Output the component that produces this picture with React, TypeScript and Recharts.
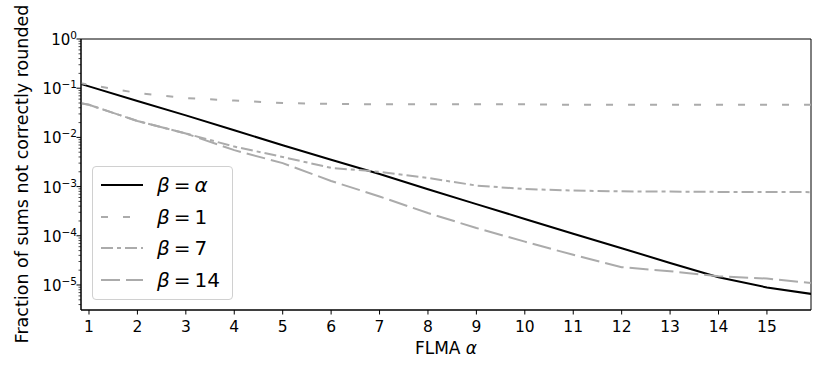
import React from 'react';
import { LineChart, Line, XAxis, YAxis, ReferenceArea } from 'recharts';

const alphas = [0.8, 1, 2, 3, 4, 5, 6, 7, 8, 9, 10, 11, 12, 13, 14, 15, 16];
const betaAlpha = [0.125, 0.109, 0.055, 0.028, 0.014, 0.0069, 0.0035, 0.0018, 0.00088, 0.00044, 0.00022, 0.00011, 5.6e-5, 2.8e-5, 1.44e-5, 8.9e-6, 6.4e-6];
const beta1 = [0.128, 0.118, 0.08, 0.063, 0.056, 0.05, 0.048, 0.047, 0.047, 0.047, 0.047, 0.046, 0.046, 0.046, 0.046, 0.046, 0.046];
const beta7 = [0.05, 0.046, 0.0215, 0.012, 0.0065, 0.004, 0.0024, 0.002, 0.0015, 0.00105, 0.00089, 0.00083, 0.0008, 0.00079, 0.00078, 0.00078, 0.00077];
const beta14 = [0.05, 0.046, 0.0215, 0.012, 0.0055, 0.003, 0.0013, 0.00063, 0.00029, 0.000144, 7.6e-5, 4.1e-5, 2.3e-5, 1.9e-5, 1.5e-5, 1.35e-5, 1.07e-5];

const xTicks = [1, 2, 3, 4, 5, 6, 7, 8, 9, 10, 11, 12, 13, 14, 15];
const majorExps = [-5, -4, -3, -2, -1, 0];

const FONT = '"DejaVu Sans", sans-serif';
const GREY = '#ababab';

const series = [
  { key: 'ba', label: 'α', values: betaAlpha, color: '#000', dash: undefined, italic: true },
  { key: 'b1', label: '1', values: beta1, color: GREY, dash: '7 15', italic: false },
  { key: 'b7', label: '7', values: beta7, color: GREY, dash: '12 4 4 4', italic: false },
  { key: 'b14', label: '14', values: beta14, color: GREY, dash: '19 6', italic: false },
];

const data = alphas.map((a, i) => {
  const row: Record<string, number> = { alpha: a };
  series.forEach((s) => {
    row[s.key] = s.values[i];
  });
  return row;
});

// major + minor log ticks
const yTicks: number[] = [];
for (let e = -6; e <= 0; e++) {
  for (let m = 1; m <= 9; m++) {
    const v = m * Math.pow(10, e);
    if (v >= 3.1e-6 && v <= 1.0000001) yTicks.push(Number(v.toPrecision(3)));
  }
}

const YTick = (props: any) => {
  const { x, y, payload } = props;
  const v = payload.value;
  const exp = Math.round(Math.log10(v));
  const isMajor = Math.abs(v - Math.pow(10, exp)) < 1e-12 && majorExps.includes(exp);
  if (!isMajor) {
    return <line x1={x} x2={x - 2.5} y1={y} y2={y} stroke="#000" strokeWidth={0.7} />;
  }
  const sup = exp < 0 ? '\u2212' + Math.abs(exp) : String(exp);
  return (
    <g>
      <line x1={x} x2={x - 4.5} y1={y} y2={y} stroke="#000" strokeWidth={1} />
      <text x={x - 4} y={y + 6} textAnchor="end" fontFamily={FONT} fontSize={15} fill="#000">
        <tspan>10</tspan>
        <tspan dy={-6} fontSize={10.5}>{sup}</tspan>
      </text>
    </g>
  );
};

const XTick = (props: any) => {
  const { x, y, payload } = props;
  return (
    <g>
      <line x1={x} x2={x} y1={y} y2={y + 4.5} stroke="#000" strokeWidth={1} />
      <text x={x} y={y + 22} textAnchor="middle" fontFamily={FONT} fontSize={15.5} fill="#000">
        {payload.value}
      </text>
    </g>
  );
};

function LegendBox() {
  return (
    <div
      style={{
        position: 'absolute',
        left: 92,
        top: 166,
        width: 139,
        height: 132,
        border: '1px solid #d0d0d0',
        borderRadius: 4,
        background: 'rgba(255,255,255,0.8)',
        fontFamily: FONT,
        fontSize: 20,
        color: '#000',
      }}
    >
      {series.map((s, i) => (
        <div
          key={s.key}
          style={{ position: 'absolute', left: 0, top: 3 + i * 31.7, height: 30, display: 'flex', alignItems: 'center' }}
        >
          <svg width={50} height={10} style={{ marginLeft: 7 }}>
            <line x1={1} x2={43} y1={5} y2={5} stroke={s.color} strokeWidth={2} strokeDasharray={s.dash} />
          </svg>
          <span style={{ marginLeft: 7, whiteSpace: 'nowrap' }}>
            <i>β</i>{'\u2009=\u2009'}{s.italic ? <i>{s.label}</i> : s.label}
          </span>
        </div>
      ))}
    </div>
  );
}

export default function App() {
  return (
    <div style={{ position: 'absolute', left: 0, top: 0, width: 830, height: 374, background: '#fff' }}>
      <LineChart width={830} height={374} data={data} margin={{ top: 39, right: 19, bottom: 0, left: 0 }}>
        <XAxis
          dataKey="alpha"
          type="number"
          domain={[0.835, 15.91]}
          allowDataOverflow
          ticks={xTicks}
          interval={0}
          tickSize={0}
          tickMargin={0}
          tick={<XTick />}
          height={64}
          axisLine={{ stroke: '#000', strokeWidth: 1 }}
        />
        <YAxis
          type="number"
          scale="log"
          domain={[3.1e-6, 1]}
          allowDataOverflow
          ticks={yTicks}
          interval={0}
          tickSize={0}
          tickMargin={0}
          tick={<YTick />}
          width={81}
          axisLine={{ stroke: '#000', strokeWidth: 1 }}
        />
        <ReferenceArea x1={0.835} x2={15.91} y1={3.1e-6} y2={1} stroke="#000" strokeWidth={1} fill="none" fillOpacity={0} ifOverflow="visible" />
        {series.map((s) => (
          <Line
            key={s.key}
            dataKey={s.key}
            type="linear"
            stroke={s.color}
            strokeWidth={2}
            strokeDasharray={s.dash}
            dot={false}
            activeDot={false}
            isAnimationActive={false}
          />
        ))}
        <text x={446} y={354} textAnchor="middle" fontFamily={FONT} fontSize={17} fill="#000">
          FLMA <tspan fontStyle="italic">α</tspan>
        </text>
        <text
          x={0}
          y={0}
          transform="translate(28,174) rotate(-90)"
          textAnchor="middle"
          fontFamily={FONT}
          fontSize={17.5}
          fill="#000"
        >
          Fraction of sums not correctly rounded
        </text>
      </LineChart>
      <LegendBox />
    </div>
  );
}
